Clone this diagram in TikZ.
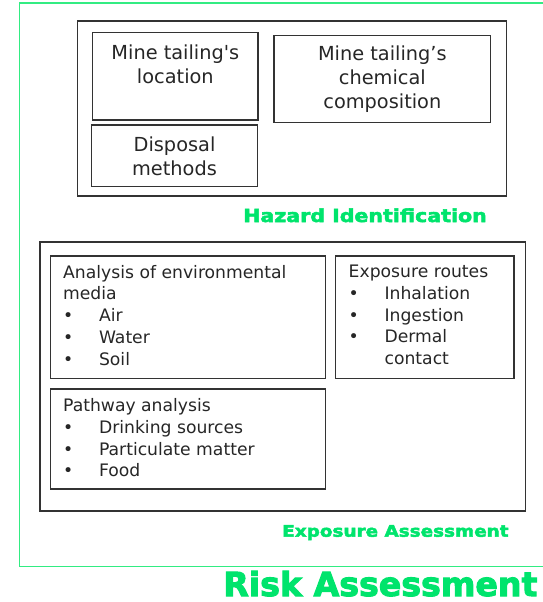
\documentclass[tikz,border=0pt]{standalone}
\usepackage{fontspec}
\setmainfont{DejaVu Sans}
\newfontfamily\headfont[FakeStretch=1.15, FakeBold=3]{DejaVu Sans}
\newfontfamily\riskfont[FakeBold=3]{DejaVu Sans}
\usepackage{xcolor}
\usetikzlibrary{fit}
\usetikzlibrary{positioning}
\definecolor{riskgreen}{RGB}{0,228,108}
\definecolor{framegreen}{RGB}{50,236,130}
\newcommand{\bulletitem}[1]{\makebox[26.9pt][l]{\textbullet}#1}
\tikzset{
    box_frame/.style = {draw=black!80, line width=0.9pt, inner sep=0pt},
    risk_frame/.style = {draw=framegreen, line width=1.1pt, inner sep=0pt},
    big_txt/.style = {align=center, inner sep=0pt, text=black!85, font=\fontsize{14.5}{18}\selectfont},
    list_txt/.style = {align=left, inner sep=0pt, text=black!85, font=\fontsize{12.9}{16.3}\selectfont},
    head/.style = {inner sep=0pt, text=riskgreen, anchor=base west}
}

\begin{document}
\begin{tikzpicture}
    [x=0.75pt, y=-0.75pt]
    \useasboundingbox (0,0) rectangle (542,602);

    % risk assessment
    \node[risk_frame, fit={(19.5,3) (560,566.7)}] (risk) {};
    \node[head, font={\riskfont\bfseries\fontsize{24.9}{28}\selectfont}] (risk_lbl) at (223,596) {Risk Assessment};

    % hazard identification
    \node[box_frame, fit={(77.3,21) (506.7,196)}] (hazard) {};
    \node[box_frame, fit={(92.7,32.7) (258,120)}] (location) {};
    \node[big_txt, below=9pt of location.north] (location_txt) {Mine tailing\textquotesingle s\\location};
    \node[box_frame, fit={(274,35.7) (490.7,122.3)}] (chemical) {};
    \node[big_txt] (chemical_txt) at (chemical.center) {Mine tailing’s\\chemical\\composition};
    \node[box_frame, fit={(91.7,125) (257.3,186.7)}] (disposal) {};
    \node[big_txt] (disposal_txt) at (disposal.center) {Disposal\\methods};
    \node[head, font={\headfont\bfseries\fontsize{13.4}{16}\selectfont}] (hazard_lbl) at (243,222) {Hazard Identification};

    % exposure assessment
    \node[box_frame, fit={(40,242) (525.5,511)}] (exposure) {};
    \node[box_frame, fit={(50.7,256) (325.7,378.5)}] (media) {};
    \node[list_txt, below right=7pt and 9.6pt of media.north west] (media_txt)
        {Analysis of environmental\\media\\\bulletitem{Air}\\\bulletitem{Water}\\\bulletitem{Soil}};
    \node[box_frame, fit={(335.7,256) (514,378.5)}] (routes) {};
    \node[list_txt, below right=7pt and 10pt of routes.north west] (routes_txt)
        {Exposure routes\\\bulletitem{Inhalation}\\\bulletitem{Ingestion}\\\bulletitem{Dermal}\\\hspace*{26.9pt}contact};
    \node[box_frame, fit={(50.7,389) (325.7,489)}] (pathway) {};
    \node[list_txt, below right=7.5pt and 9.6pt of pathway.north west] (pathway_txt)
        {Pathway analysis\\\bulletitem{Drinking sources}\\\bulletitem{Particulate matter}\\\bulletitem{Food}};
    \node[head, font={\headfont\bfseries\fontsize{12}{14}\selectfont}] (exposure_lbl) at (282,536.7) {Exposure Assessment};
\end{tikzpicture}
\end{document}
